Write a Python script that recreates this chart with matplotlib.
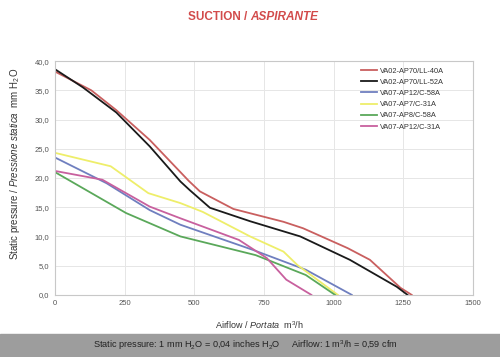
import matplotlib
matplotlib.use("Agg")
import matplotlib.pyplot as plt

plt.rcParams['font.family'] = ['Liberation Sans', 'DejaVu Sans']
plt.rcParams['mathtext.fontset'] = 'custom'
plt.rcParams['mathtext.rm'] = 'Liberation Sans'
plt.rcParams['mathtext.it'] = 'Liberation Sans:italic'

# curves (airflow m3/h, static pressure mm H2O)
names = ["VA02-AP70/LL-40A", "VA02-AP70/LL-52A", "VA07-AP12/C-58A",
         "VA07-AP7/C-31A", "VA07-AP8/C-58A", "VA07-AP12/C-31A"]
colors = ["#c95f5f", "#1a1a1a", "#6f7fbf", "#eeee6a", "#5aa85a", "#c8609e"]

x_40a = [0, 130, 220, 340, 480, 520, 640, 820, 890, 1050, 1130, 1240, 1280]
y_40a = [38.2, 35.0, 31.6, 26.5, 19.5, 17.7, 14.7, 12.5, 11.4, 8.0, 6.0, 1.2, 0]
x_52a = [0, 100, 220, 340, 450, 484, 556, 700, 880, 1058, 1226, 1265]
y_52a = [38.6, 35.5, 31.2, 25.4, 19.4, 17.9, 14.9, 12.6, 10.0, 6.0, 1.4, 0]
x_58a = [0, 185, 340, 450, 710, 900, 1065]
y_58a = [23.5, 19.1, 14.5, 12.0, 7.7, 4.3, 0]
x_31a = [0, 200, 335, 450, 530, 700, 820, 870, 1015]
y_31a = [24.3, 22.0, 17.4, 15.7, 14.2, 10.0, 7.4, 5.1, 0]
x_ap8 = [0, 255, 450, 720, 900, 1005]
y_ap8 = [21.0, 14.0, 10.0, 6.8, 3.4, 0]
x_ap12 = [0, 170, 340, 450, 660, 760, 830, 920]
y_ap12 = [21.2, 19.7, 15.1, 13.1, 9.4, 6.3, 2.6, 0]

xs = [x_40a, x_52a, x_58a, x_31a, x_ap8, x_ap12]
ys = [y_40a, y_52a, y_58a, y_31a, y_ap8, y_ap12]

xticks = [0, 250, 500, 750, 1000, 1250, 1500]
yticks = [0, 5, 10, 15, 20, 25, 30, 35, 40]

fig = plt.figure(figsize=(5, 3.57), dpi=100)
ax = fig.add_axes([0.11, 0.174, 0.836, 0.655])

for x, y, c, n in zip(xs, ys, colors, names):
    ax.plot(x, y, color=c, lw=1.3, label=n)

ax.set_xlim(0, 1500)
ax.set_ylim(0, 40)
ax.set_xticks(xticks)
ax.set_yticks(yticks)
ax.set_yticklabels([("%.1f" % v).replace(".", ",") for v in yticks])
ax.tick_params(labelsize=5.5, colors="#555555", length=0, pad=4)
ax.grid(True, color="#e6e6e6", lw=0.7)
for s in ax.spines.values():
    s.set_color("#c8c8c8")
    s.set_linewidth(0.8)

leg = ax.legend(loc="upper left", bbox_to_anchor=(0.725, 0.985), frameon=False,
                fontsize=5.3, handlelength=2.2, handletextpad=0.4,
                labelspacing=0.55, borderaxespad=0)
for t in leg.get_texts():
    t.set_color("#333333")

# title
fig.text(0.5, 0.952, "SUCTION / ", ha="right", va="center", fontsize=8.5,
         fontweight="bold", color="#d24b4b")
fig.text(0.5, 0.952, "ASPIRANTE", ha="left", va="center", fontsize=8.5,
         fontweight="bold", style="italic", color="#d24b4b")

fig.text(0.03, 0.54, r"Static pressure / $\mathit{Pressione\ statica}$  mm H$_2$O",
         rotation=90, ha="center", va="center", fontsize=7, color="#333333")
fig.text(0.518, 0.09, r"Airflow / $\mathit{Portata}$  m$^3$/h",
         ha="center", va="center", fontsize=6.5, color="#333333")

# grey band at the bottom
fig.patches.append(plt.Rectangle((0, 0), 1, 0.065, transform=fig.transFigure,
                                 color="#9d9d9d", zorder=0))
fig.text(0.49, 0.032,
         r"Static pressure: 1 mm H$_2$O = 0,04 inches H$_2$O     Airflow: 1 m$^3$/h = 0,59 cfm",
         ha="center", va="center", fontsize=6.6, color="#222222")

fig.savefig("out.png", dpi=100)
